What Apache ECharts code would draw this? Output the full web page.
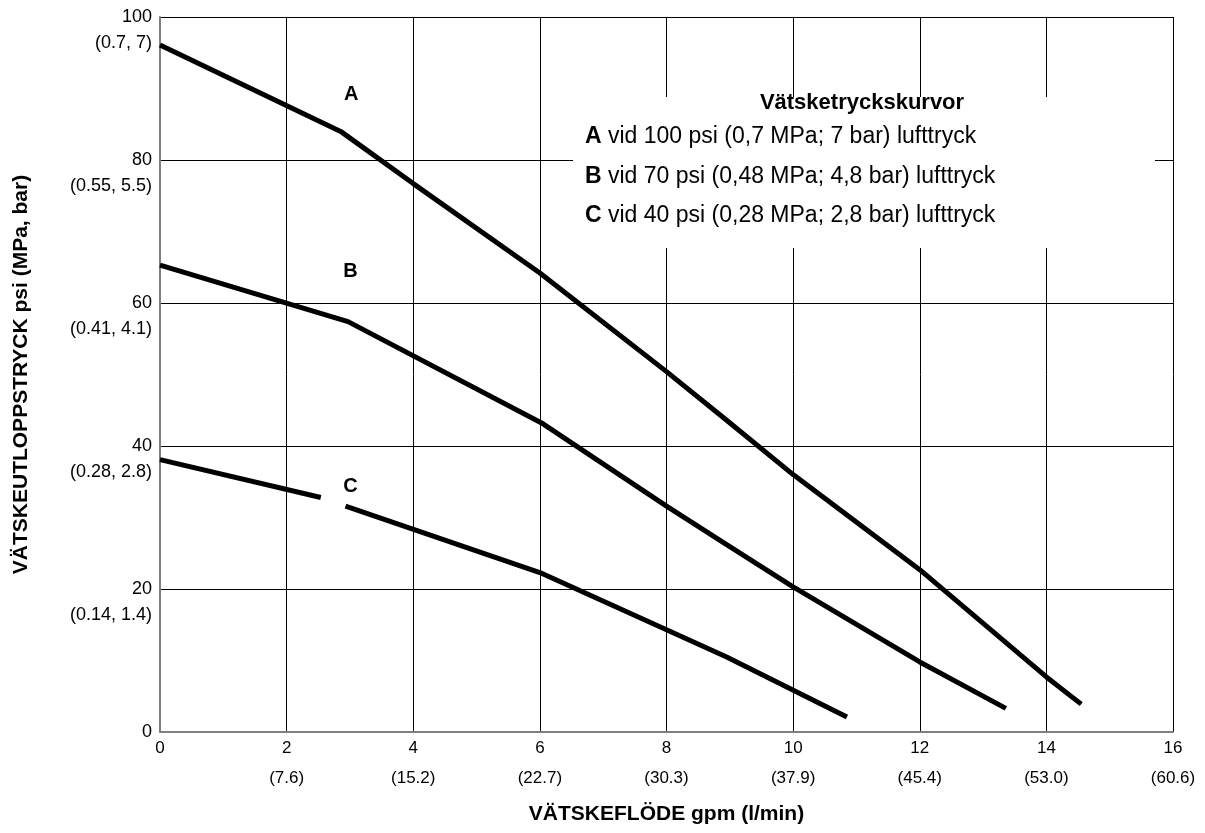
<!DOCTYPE html>
<html>
<head>
<meta charset="utf-8">
<script src="https://cdn.jsdelivr.net/npm/echarts@6/dist/echarts.min.js"></script>
<style>
html,body{margin:0;padding:0;background:#fff;}
#chart{width:1205px;height:833px;}
</style>
</head>
<body>
<div id="chart"></div>
<script>
// Data (x = gpm, y = psi)
var curveA = [[0,96.1],[2.87,83.9],[4,76.7],[6,64.2],[8,50.4],[8.95,43.6],[10,36.0],[12,22.7],[14,7.7],[14.55,3.9]];
var curveB = [[0,65.3],[2.97,57.4],[6.05,43.1],[8,31.6],[8.95,26.2],[10,20.3],[12,9.8],[13.36,3.3]];
var curveC = [[0,38.1],[2.54,32.8],[2.7,'-'],[2.93,31.6],[6,22.3],[8,14.3],[8.95,10.5],[10.85,2.1]];
var curveLabels = [['A',3.02,89.2],['B',3.01,64.4],['C',3.01,34.3]];
var xTicks = [0,2,4,6,8,10,12,14,16];
var xSubLabels = ['', '(7.6)', '(15.2)', '(22.7)', '(30.3)', '(37.9)', '(45.4)', '(53.0)', '(60.6)'];
var yTicks = [0,20,40,60,80,100];
var ySubLabels = ['', '(0.14, 1.4)', '(0.28, 2.8)', '(0.41, 4.1)', '(0.55, 5.5)', '(0.7, 7)'];
var legendTitle = 'Vätsketryckskurvor';
var legendRows = [['A',' vid 100 psi (0,7 MPa; 7 bar) lufttryck'],['B',' vid 70 psi (0,48 MPa; 4,8 bar) lufttryck'],['C',' vid 40 psi (0,28 MPa; 2,8 bar) lufttryck']];
var xName = 'VÄTSKEFLÖDE gpm (l/min)';
var yName = 'VÄTSKEUTLOPPSTRYCK psi (MPa, bar)';

var FONT = '"Liberation Sans", Arial, Helvetica, sans-serif';
var chart = echarts.init(document.getElementById('chart'), null, {renderer:'canvas'});

function subX(v){ var i = xTicks.indexOf(v); return i>=0 ? xSubLabels[i] : ''; }
function subY(v){ var i = yTicks.indexOf(v); return i>=0 ? ySubLabels[i] : ''; }

function makeSeries(name, data, idx){
  var lab = curveLabels[idx];
  return {
    name: name, type: 'line', data: data, symbol: 'none', connectNulls: false,
    lineStyle: {color:'#000', width:5}, z: 5,
    markPoint: {
      symbol: 'circle', symbolSize: 0,
      data: [{coord:[lab[1], lab[2]], value: lab[0]}],
      label: {show:true, position:'inside', formatter: lab[0], color:'#000', fontFamily: FONT, fontWeight:'bold', fontSize:20}
    }
  };
}

var legendY = [137, 177, 216];
var graphics = [{
  type:'rect', shape:{x:573, y:97, width:582, height:151}, style:{fill:'#fff'}, z:100
},{
  type:'text', x:862, y:103, z:101,
  style:{text: legendTitle, fill:'#000', font:'bold 22px ' + FONT, textAlign:'center', textVerticalAlign:'middle'}
}];
legendRows.forEach(function(r, i){
  graphics.push({
    type:'text', x:585, y:legendY[i], z:101,
    style:{
      text: '{b|' + r[0] + '}{n|' + r[1] + '}',
      textVerticalAlign:'middle', textAlign:'left',
      rich:{ b:{font:'bold 23px ' + FONT, fill:'#000'}, n:{font:'23px ' + FONT, fill:'#000'} }
    }
  });
});

chart.setOption({
  backgroundColor:'#fff',
  animation:false,
  grid:{left:160, right:32, top:17, bottom:101, containLabel:false, outerBoundsMode:'none'},
  xAxis:[{
    type:'value', min:0, max:16, interval:2,
    name: xName, nameLocation:'middle', nameGap:72,
    nameTextStyle:{fontFamily:FONT, fontWeight:'bold', fontSize:21, color:'#000'},
    axisLine:{show:true, lineStyle:{color:'#7f7f7f', width:2}},
    axisTick:{show:false},
    axisLabel:{margin:8, fontFamily:FONT, fontSize:17, color:'#000'},
    splitLine:{show:true, lineStyle:{color:'#000', width:1}}
  },{
    type:'value', min:0, max:16, interval:2, position:'bottom',
    axisLine:{show:false}, axisTick:{show:false},
    axisLabel:{margin:38, fontFamily:FONT, fontSize:17, color:'#000', formatter:function(v){return subX(v);}},
    splitLine:{show:false}
  }],
  yAxis:[{
    type:'value', min:0, max:100, interval:20,
    name: yName, nameLocation:'middle', nameGap:128,
    nameTextStyle:{fontFamily:FONT, fontWeight:'bold', fontSize:21, color:'#000'},
    axisLine:{show:true, lineStyle:{color:'#7f7f7f', width:2}},
    axisTick:{show:false},
    axisLabel:{margin:8, fontFamily:FONT, fontSize:18, color:'#000'},
    splitLine:{show:true, lineStyle:{color:'#000', width:1}}
  },{
    type:'value', min:0, max:100, interval:20, position:'left',
    axisLine:{show:false}, axisTick:{show:false},
    axisLabel:{margin:8, fontFamily:FONT, fontSize:18, color:'#000', lineHeight:52,
      formatter:function(v){ var s = subY(v); return s ? '\n' + s : ''; }},
    splitLine:{show:false}
  }],
  series:[
    makeSeries('A', curveA, 0),
    makeSeries('B', curveB, 1),
    makeSeries('C', curveC, 2)
  ],
  graphic: graphics
});
</script>
</body>
</html>
